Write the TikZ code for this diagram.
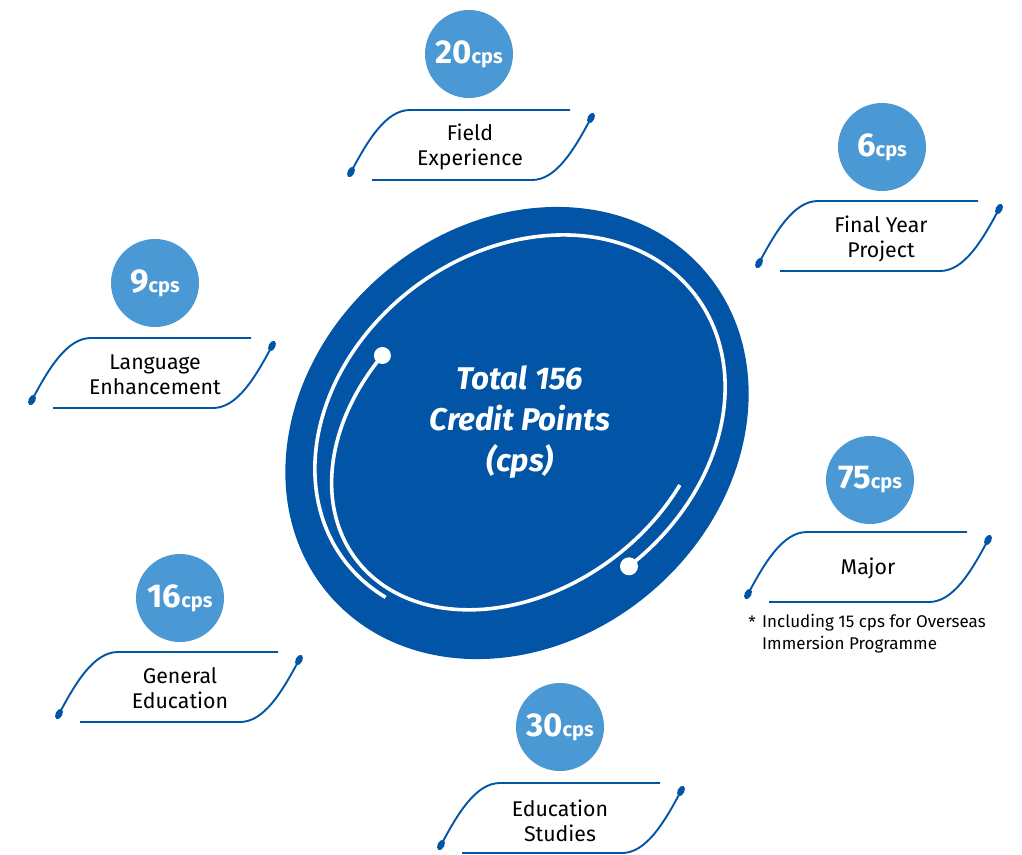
\documentclass[tikz,border=0pt]{standalone}
\usepackage{fontspec}
\setmainfont{Fira Sans}
\definecolor{darkblue}{HTML}{0254A6}
\definecolor{lightblue}{HTML}{4A98D4}
\tikzset{
  frameline/.style={draw=darkblue, line width=1.9pt},
  whiteline/.style={draw=white, line width=3.6pt},
  numcirc/.style={circle, fill=lightblue, minimum size=88pt, inner sep=0pt, text=white},
  lbl/.style={align=center, text=black, font=\fontsize{21.3}{25}\selectfont, inner sep=0pt},
  pics/credframe/.style={code={
    \draw[frameline] (-120,27) .. controls (-103,-5) and (-85,-35) .. (-61,-35) -- (99,-35);
    \draw[frameline] (-99,35) -- (61,35) .. controls (85,35) and (103,5) .. (120,-27);
    \fill[darkblue] (-120,27) ellipse [x radius=5.6pt, y radius=3.4pt, rotate=63];
    \fill[darkblue] (120,-27) ellipse [x radius=5.6pt, y radius=3.4pt, rotate=63];
  }}
}
\newcommand{\numtxt}[1]{{\fontsize{33}{33}\selectfont\bfseries #1}{\fontsize{20}{20}\selectfont\bfseries cps}}
\begin{document}
\begin{tikzpicture}[x=1pt, y=-1pt]
\useasboundingbox (0,0) rectangle (1022,854);
% central blob
\fill[darkblue] (517,433) ellipse [x radius=248pt, y radius=208pt, rotate=41];
% white arcs
\draw[whiteline] plot[domain=-89:198, samples=150, smooth]
  ({520 + 220*cos(\x)*0.7986 - 176*sin(\x)*0.6018},
   {428 - (220*cos(\x)*0.6018 + 176*sin(\x)*0.7986)});
\draw[whiteline] plot[domain=107.6:298.2, samples=120, smooth]
  ({520 + (-4+206*cos(\x))*0.7986 - (-6+154*sin(\x))*0.6018},
   {428 - ((-4+206*cos(\x))*0.6018 + (-6+154*sin(\x))*0.7986)});
\node[circle, fill=white, minimum size=17pt, inner sep=0pt] (d1) at (382.4,355.5) {};
\node[circle, fill=white, minimum size=18pt, inner sep=0pt] (d2) at (629,566.3) {};
\node[align=center, text=white, font=\fontsize{31.4}{41}\selectfont\bfseries\itshape, inner sep=0pt] (total) at (520,422) {Total 156\\Credit Points\\(cps)};
% labels
\node[numcirc] (c1) at (469,54) {\numtxt{20}};
\node[lbl] (t1) at (470,147) {Field\\Experience};
\pic at (471,145) {credframe};
\node[numcirc] (c2) at (882,147) {\numtxt{6}};
\node[lbl] (t2) at (881,239) {Final Year\\Project};
\pic at (879,236) {credframe};
\node[numcirc] (c3) at (155,283) {\numtxt{9}};
\node[lbl] (t3) at (155,375) {Language\\Enhancement};
\pic at (152,373) {credframe};
\node[numcirc] (c4) at (870,480) {\numtxt{75}};
\node[lbl] (t4) at (868,568) {Major};
\pic at (868,567) {credframe};
\node[numcirc] (c5) at (180,598) {\numtxt{16}};
\node[lbl] (t5) at (180,688) {General\\Education};
\pic at (179,687) {credframe};
\node[numcirc] (c6) at (560,727) {\numtxt{30}};
\node[lbl] (t6) at (560,821) {Education\\Studies};
\pic at (561,818) {credframe};
% footnote
\node[anchor=base, font=\fontsize{17}{21.5}\selectfont, inner sep=0pt] (star) at (752,628) {*};
\node[anchor=base west, align=left, font=\fontsize{17}{21.5}\selectfont, inner sep=0pt] (note) at (762,649) {Including 15 cps for Overseas\\Immersion Programme};
\end{tikzpicture}
\end{document}
